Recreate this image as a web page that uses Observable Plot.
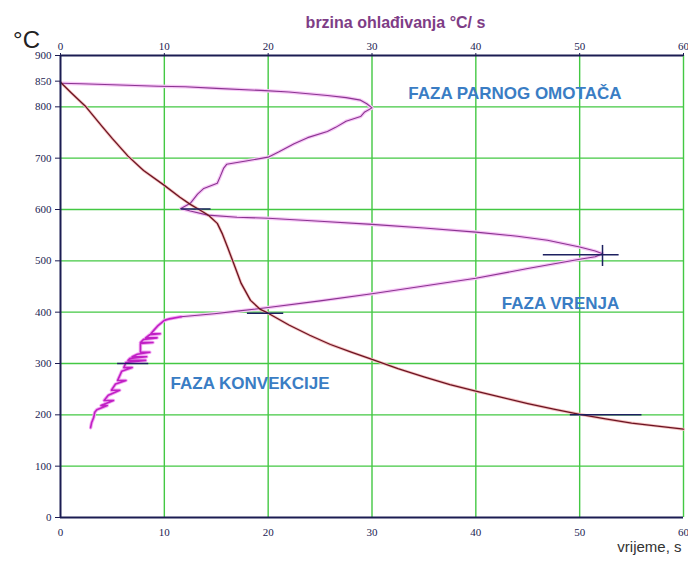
<!DOCTYPE html>
<html><head><meta charset="utf-8">
<script src="https://cdn.jsdelivr.net/npm/d3@7"></script>
<script src="https://cdn.jsdelivr.net/npm/@observablehq/plot@0.6"></script>
<style>html,body{margin:0;padding:0;background:#fff} svg{display:block}</style>
</head><body><div id="chart"></div>
<script>
// Temperature vs time (bottom axis, s)
const timeS = [0,1,2.45,4,5,6.5,8,10,11.5,12.5,13.5,14.3,15.1,15.6,16.1,16.6,17.4,18.3,19.2,20,22,24,26,28,30,32.5,35,37.5,40,42.5,45,47.5,50,52.5,55,57.5,60];
const tempTime = [848,828,800,762,738,704,676,647,624,610,598,588,573,552,526,499,456,423,406,398,375,355,337,322,308,290,274,259,246,234,222,211,201,192,184,178,172];

// Temperature vs cooling rate (top axis, °C/s) – vapour blanket & boiling phases
const rateCS = [0,2,5,9.4,12,15,19.3,22,25.7,27.5,28.9,29.5,30,29.3,28.9,27.5,26.5,25.7,23.8,22.5,21,20,18,16,15.7,15.4,15.1,13.8,13.2,12.5,11.6,12.5,14.2,17,20,25,30,35,40,44,46.9,50,51.5,52.2,51.5,50,45,40,35,30,25,20,17,14.8,11.6];
const tempRate = [846,845,843,840,839,836,832,829,822,818,813,806,798,790,781,772,760,752,740,728,712,702,695,688,680,665,651,641,630,612,602,597,589,585,583,577,571,564,556,548,540,527,519,514,508,503,485,466,451,436,422,409,402,397,391];

// Convection phase (top axis, °C/s)
const convRate = [11.6,10.5,10,9.4,9.0,8.7,9.6,8.6,8.2,9.3,8.0,7.7,8.9,7.7,7.7,8.6,7.4,6.9,8.3,6.7,6.5,8.2,6.3,6.1,6.9,5.9,5.5,6.3,5.3,4.9,5.7,4.6,4.2,5.1,3.9,4.5,3.5,3.3,3.2,3.0,2.9];
const convTemp = [391,387,384,374,365,358,358,356,350,350,347,341,341,339,322,322,318,313,313,310,306,306,302,292,292,285,267,267,260,248,248,238,228,228,218,218,210,205,195,185,175];

// Cursor marks
const markT = [601,398,300,200,512];
const markFrom = [11.6,18,5.5,49.1,46.5];
const markTo = [14.5,21.5,8.5,56,53.8];
const crossX = [52.2];
const crossFrom = [489];
const crossTo = [530];

const yTicks = [0,100,200,300,400,500,600,700,800,850,900];
const xTicks = [0,10,20,30,40,50,60];
const gridYVals = [100,200,300,400,500,600,700,800];
const gridXVals = [10,20,30,40,50,60];

const phaseNames = ["FAZA PARNOG OMOTAČA","FAZA VRENJA","FAZA KONVEKCIJE"];
const phaseX = [33.5,42.5,10.6];
const phaseY = [826,417,261];

const cooling = timeS.map((t,i)=>({x:t,y:tempTime[i]}));
const rate = rateCS.map((r,i)=>({x:r,y:tempRate[i]}));
const conv = convRate.map((r,i)=>({x:r,y:convTemp[i]}));
const marks = markT.map((t,i)=>({y:t,x1:markFrom[i],x2:markTo[i]}));
const cross = crossX.map((x,i)=>({x, y1:crossFrom[i], y2:crossTo[i]}));
const phases = phaseNames.map((n,i)=>({text:n,x:phaseX[i],y:phaseY[i]}));

const sans = "'Liberation Sans', Arial, sans-serif";
const axisColor = "#1b1c52";
const gridColor = "#43c843";

const chart = Plot.plot({
  width: 688, height: 562,
  marginTop: 55, marginBottom: 45, marginLeft: 60, marginRight: 5,
  x: {domain: [0, 60]},
  y: {domain: [0, 900]},
  style: {fontFamily: "'Liberation Serif', 'DejaVu Serif', serif", fontSize: "11px", background: "#fff", color: "#2c2c5a"},
  marks: [
    Plot.gridY(gridYVals, {stroke: gridColor, strokeOpacity: 1, strokeWidth: 1.4}),
    Plot.gridX(gridXVals, {stroke: gridColor, strokeOpacity: 1, strokeWidth: 1.4}),
    Plot.line(rate, {x: "x", y: "y", stroke: "#f6c6f6", strokeWidth: 3.5}),
    Plot.line(conv, {x: "x", y: "y", stroke: "#f2a8f2", strokeWidth: 3.5}),
    Plot.line(cooling, {x: "x", y: "y", stroke: "#f4c0c0", strokeWidth: 3}),
    Plot.line(rate, {x: "x", y: "y", stroke: "#8a3490", strokeWidth: 1.1}),
    Plot.line(conv, {x: "x", y: "y", stroke: "#c020c4", strokeWidth: 1.6}),
    Plot.line(cooling, {x: "x", y: "y", stroke: "#6b1422", strokeWidth: 1.3}),
    Plot.ruleY(marks, {y: "y", x1: "x1", x2: "x2", stroke: "#1d2060", strokeWidth: 1.5}),
    Plot.ruleX(cross, {x: "x", y1: "y1", y2: "y2", stroke: "#1d2060", strokeWidth: 1.5}),
    Plot.axisY({ticks: yTicks, tickSize: 5, tickPadding: 4, label: null, tickFormat: d => String(d), color: axisColor, fontFamily: "'Liberation Serif', serif"}),
    Plot.axisX({anchor: "top", ticks: xTicks, tickSize: 3, tickPadding: 3, label: null, color: axisColor, fontFamily: "'Liberation Serif', serif"}),
    Plot.axisX({anchor: "bottom", ticks: xTicks, tickSize: 0, tickPadding: 11, label: null, color: axisColor, fontFamily: "'Liberation Serif', serif"}),
    Plot.ruleX([0], {stroke: axisColor, strokeWidth: 2}),
    Plot.ruleY([0, 900], {stroke: axisColor, strokeWidth: 2}),
    Plot.text(phases, {x: "x", y: "y", text: "text", textAnchor: "start", fill: "#3a7dc4", fontWeight: "bold", fontSize: 17, fontFamily: sans}),
    Plot.text(["brzina ohlađivanja °C/ s"], {frameAnchor: "top-left", dx: 335, dy: -39, textAnchor: "middle", fill: "#7e3d86", fontWeight: "bold", fontSize: 16, fontFamily: "'Liberation Sans Narrow', " + sans}),
    Plot.text(["°C"], {frameAnchor: "top-left", dx: -34, dy: -25, textAnchor: "middle", fill: "#222", fontSize: 24, fontFamily: sans}),
    Plot.text(["vrijeme, s"], {frameAnchor: "bottom-right", dx: -2, dy: 34, textAnchor: "end", fill: "#333", fontSize: 15, fontFamily: sans})
  ]
});
document.getElementById("chart").append(chart);
</script>
</body></html>
